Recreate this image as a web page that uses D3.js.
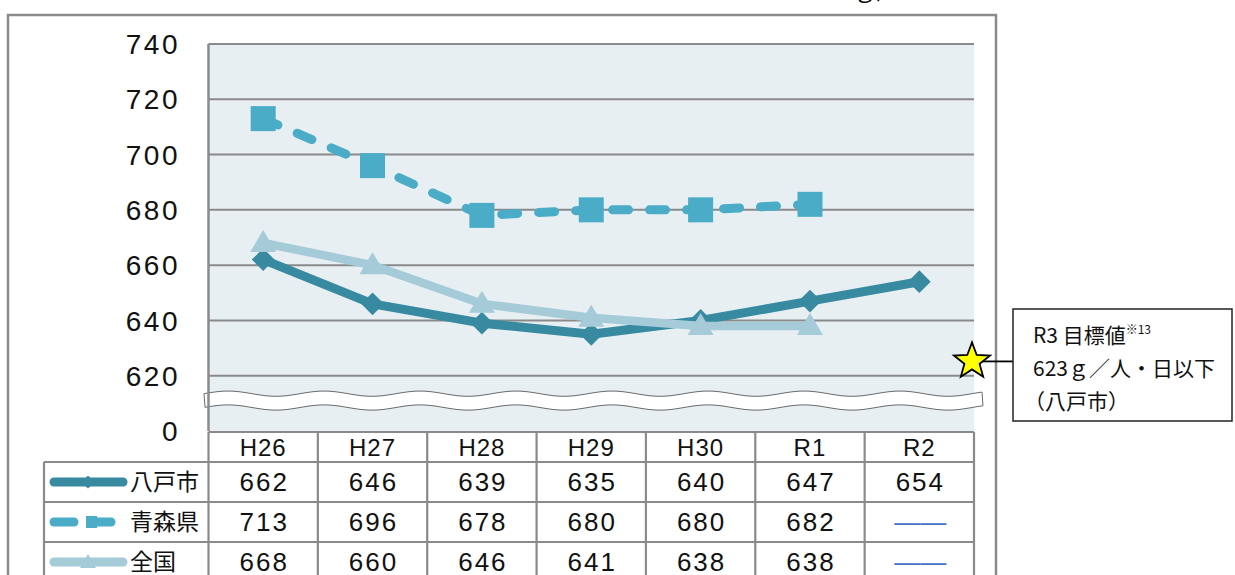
<!DOCTYPE html>
<html><head><meta charset="utf-8">
<script src="https://cdn.jsdelivr.net/npm/d3@7"></script>
<style>body{margin:0;background:#fff}svg{display:block}</style>
</head><body>
<script>
const categories = ["H26","H27","H28","H29","H30","R1","R2"];
const hachinohe = [662,646,639,635,640,647,654];
const aomori = [713,696,678,680,680,682,null];
const zenkoku = [668,660,646,641,638,638,null];
const seriesNames = ["八戸市","青森県","全国"];
const yTicks = [600,620,640,660,680,700,720,740];
const yTickLabels = ["0","620","640","660","680","700","720","740"];
const targetValue = 623;
const targetText = ["R3 目標値","623ｇ／人・日以下","（八戸市）"];
const unitText = "（単位：ｇ/人・日）";

const W=1235,H=575;
const colDark="#378AA0", colMid="#4AACC6", colLight="#A5CAD8";
const numFont="'Liberation Sans', Arial, sans-serif";
const jpFont="'Noto Sans CJK JP', sans-serif";

const svg=d3.select("body").append("svg").attr("width",W).attr("height",H);
const pl=208.5, pr=974, pt=44, pb=431;
const x=d3.scaleBand().domain(categories).range([pl,pr]).padding(0);
const y=d3.scaleLinear().domain([600,740]).range([pb,pt]);
const cx=c=>x(c)+x.bandwidth()/2;

// outer border
svg.append("rect").attr("x",8).attr("y",15).attr("width",988).attr("height",600)
  .attr("fill","#fff").attr("stroke","#8a8a8a").attr("stroke-width",2.5);
// unit text (cropped at top)
svg.append("text").attr("x",757).attr("y",-3).attr("font-family",jpFont).attr("font-size",24)
  .attr("fill","#000").text(unitText);

// plot background
svg.append("rect").attr("x",pl).attr("y",pt).attr("width",pr-pl).attr("height",pb-pt+1).attr("fill","#E7EFF3");
// gridlines
svg.append("g").selectAll("line").data(yTicks.filter(d=>d>=620)).join("line")
  .attr("x1",pl).attr("x2",pr).attr("y1",d=>y(d)).attr("y2",d=>y(d))
  .attr("stroke","#8a8a8a").attr("stroke-width",2);
// y axis labels
svg.append("g").selectAll("text").data(yTicks).join("text")
  .attr("x",180).attr("y",d=>y(d)).attr("dy","0.36em").attr("text-anchor","end")
  .attr("font-family",numFont).attr("font-size",28).attr("letter-spacing",2.5)
  .attr("fill","#111").text((d,i)=>yTickLabels[i]);

// break band
(function(){
  const x0=204,x1=983,topY=y(613.5),botY=y(608.5),amp=2.6,per=96;
  const top=d3.range(x0,x1+0.1,2).map(v=>[v,topY+amp*Math.sin((v-x0)/per*2*Math.PI+Math.PI)]);
  const bot=d3.range(x1,x0-0.1,-2).map(v=>[v,botY+amp*Math.sin((v-x0)/per*2*Math.PI+Math.PI)]);
  svg.append("path").attr("d","M"+top.map(p=>p.join(",")).join("L")+"L"+bot.map(p=>p.join(",")).join("L")+"Z")
    .attr("fill","#fff").attr("stroke","#6a6a6a").attr("stroke-width",1);
})();

// y axis line
svg.append("line").attr("x1",pl).attr("x2",pl).attr("y1",pt).attr("y2",pb).attr("stroke","#8a8a8a").attr("stroke-width",2.5);

const line=d3.line().defined(d=>d!=null).x((d,i)=>cx(categories[i])).y(d=>y(d));

// Aomori dashed
svg.append("path").attr("d",line(aomori)).attr("fill","none").attr("stroke",colMid)
  .attr("stroke-width",9).attr("stroke-dasharray","16 21").attr("stroke-linecap","round");
// Hachinohe
svg.append("path").attr("d",line(hachinohe)).attr("fill","none").attr("stroke",colDark)
  .attr("stroke-width",9).attr("stroke-linejoin","round");
svg.append("g").selectAll("path").data(hachinohe).join("path")
  .attr("d",d3.symbol(d3.symbolDiamond2,330)).attr("fill",colDark)
  .attr("transform",(d,i)=>`translate(${cx(categories[i])},${y(d)})`);
svg.append("g").selectAll("rect").data(aomori.map((v,i)=>({v,i})).filter(d=>d.v!=null)).join("rect")
  .attr("x",d=>cx(categories[d.i])-12.5).attr("y",d=>y(d.v)-12.5).attr("width",25).attr("height",25).attr("fill",colMid);
// Zenkoku
svg.append("path").attr("d",line(zenkoku)).attr("fill","none").attr("stroke",colLight)
  .attr("stroke-width",8.5).attr("stroke-linejoin","round");
svg.append("g").selectAll("path").data(zenkoku.map((v,i)=>({v,i})).filter(d=>d.v!=null)).join("path")
  .attr("d",d=>{const X=cx(categories[d.i]),Y=y(d.v);return `M${X},${Y-13}L${X+13},${Y+9}L${X-13},${Y+9}Z`;})
  .attr("fill",colLight);

// target star
(function(){
  const sx=pr-2, sy=y(targetValue)-6, R=19, r=8;
  const pts=d3.range(10).map(k=>{const a=-Math.PI/2+k*Math.PI/5,rr=k%2?r:R;return [sx+rr*Math.cos(a),sy+rr*Math.sin(a)];});
  svg.append("line").attr("x1",sx+10).attr("x2",1013).attr("y1",sy).attr("y2",sy).attr("stroke","#000").attr("stroke-width",1.8);
  svg.append("path").attr("d","M"+pts.map(p=>p.join(",")).join("L")+"Z").attr("fill","#FFFF00").attr("stroke","#000").attr("stroke-width",1.8);
  svg.append("rect").attr("x",1013).attr("y",309).attr("width",219).attr("height",112).attr("fill","#fff").attr("stroke","#222").attr("stroke-width",1.5);
  const t1=svg.append("text").attr("x",1033).attr("y",343).attr("font-family",jpFont).attr("font-size",21).attr("fill","#111");
  t1.append("tspan").text(targetText[0]);
  t1.append("tspan").attr("font-size",12).attr("dy",-9).text("※13");
  svg.append("text").attr("x",1033).attr("y",376).attr("font-family",jpFont).attr("font-size",21).attr("fill","#111").text(targetText[1]);
  svg.append("text").attr("x",1024).attr("y",409).attr("font-family",jpFont).attr("font-size",21).attr("fill","#111").text(targetText[2]);
})();

// data table
const hTop=pb+1, hH=30, rH=40, legL=44;
const tg=svg.append("g").attr("stroke","#8a8a8a").attr("stroke-width",2.2);
const colEdges=categories.map(c=>x(c)).concat([pr]);
tg.append("line").attr("x1",pl).attr("x2",pr).attr("y1",hTop).attr("y2",hTop);
[0,1,2,3].forEach(k=>tg.append("line").attr("x1",legL).attr("x2",pr).attr("y1",hTop+hH+k*rH).attr("y2",hTop+hH+k*rH));
colEdges.forEach(e=>tg.append("line").attr("x1",e).attr("x2",e).attr("y1",hTop).attr("y2",H+5));
tg.append("line").attr("x1",legL).attr("x2",legL).attr("y1",hTop+hH).attr("y2",H+5);

svg.append("g").selectAll("text").data(categories).join("text")
  .attr("x",d=>cx(d)).attr("y",hTop+hH/2).attr("dy","0.36em").attr("text-anchor","middle")
  .attr("font-family",numFont).attr("font-size",24).attr("letter-spacing",1).attr("fill","#111").text(d=>d);

[hachinohe,aomori,zenkoku].forEach((arr,r)=>{
  const ry=hTop+hH+r*rH+rH/2;
  svg.append("g").selectAll("text").data(arr).join("text")
    .attr("x",(d,i)=>cx(categories[i])+1).attr("y",ry).attr("dy","0.36em").attr("text-anchor","middle")
    .attr("font-family",numFont).attr("font-size",26).attr("letter-spacing",d=>d==null?0:2)
    .attr("fill",d=>d==null?"#4472C4":"#111").text(d=>d==null?"――":d);
  svg.append("text").attr("x",130).attr("y",ry).attr("dy","0.36em").attr("font-family",jpFont)
    .attr("font-size",23).attr("fill","#111").text(seriesNames[r]);
});
// legend swatches
(function(){
  const y1=hTop+hH+rH/2, y2=y1+rH, y3=y2+rH;
  svg.append("line").attr("x1",54).attr("x2",123).attr("y1",y1).attr("y2",y1).attr("stroke",colDark).attr("stroke-width",9).attr("stroke-linecap","round");
  svg.append("path").attr("d",d3.symbol(d3.symbolDiamond2,110)).attr("transform",`translate(88,${y1})`).attr("fill",colDark);
  svg.append("line").attr("x1",54).attr("x2",74).attr("y1",y2).attr("y2",y2).attr("stroke",colMid).attr("stroke-width",9).attr("stroke-linecap","round");
  svg.append("line").attr("x1",97).attr("x2",111).attr("y1",y2).attr("y2",y2).attr("stroke",colMid).attr("stroke-width",9).attr("stroke-linecap","round");
  svg.append("rect").attr("x",86).attr("y",y2-6).attr("width",11).attr("height",12).attr("fill",colMid);
  svg.append("line").attr("x1",54).attr("x2",123).attr("y1",y3).attr("y2",y3).attr("stroke",colLight).attr("stroke-width",9).attr("stroke-linecap","round");
  svg.append("path").attr("d",`M88,${y3-8}L96,${y3+6}L80,${y3+6}Z`).attr("fill",colLight);
})();
</script>
</body></html>
